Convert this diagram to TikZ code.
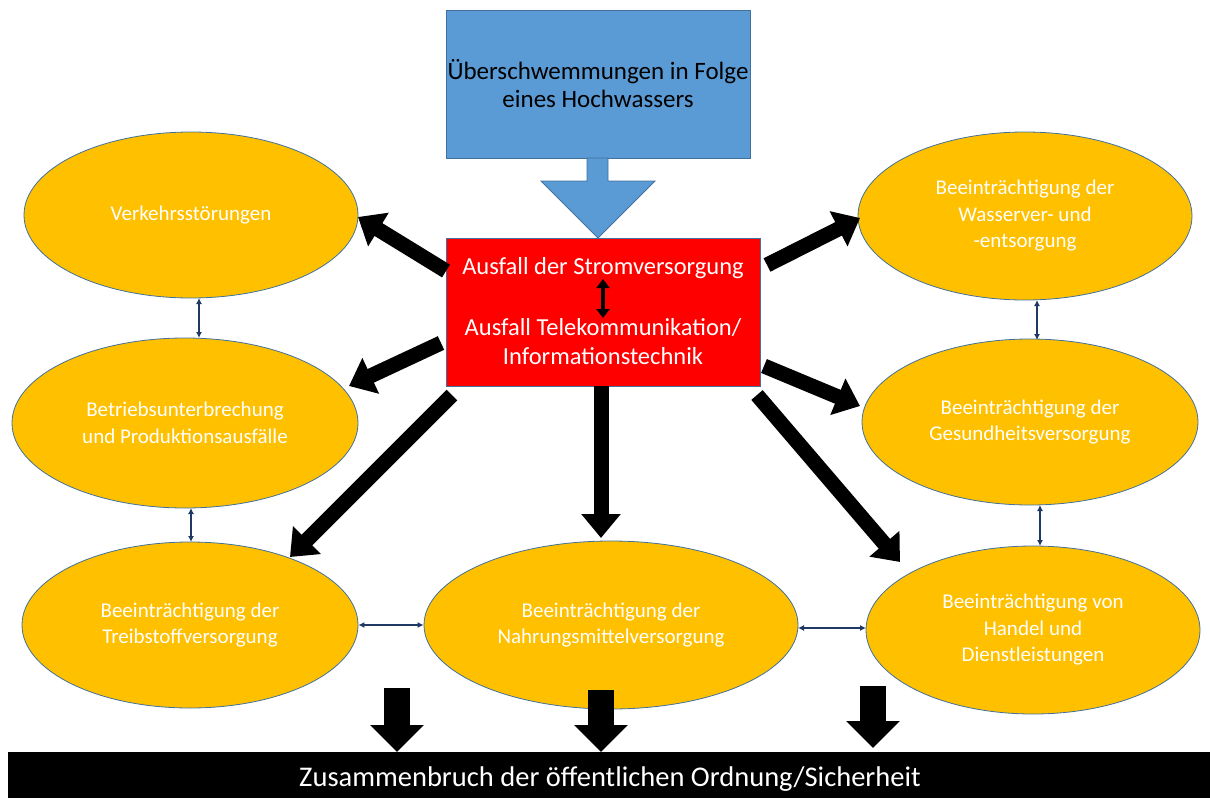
\documentclass[tikz,border=0pt]{standalone}
\usepackage{fontspec}
\setmainfont{Carlito}
\usetikzlibrary{shapes.geometric,arrows.meta}
\definecolor{bluefill}{HTML}{5B9BD5}
\definecolor{blueline}{HTML}{41719C}
\definecolor{orangefill}{HTML}{FFC000}
\definecolor{navy}{HTML}{1F3864}
\begin{document}
\begin{tikzpicture}[x=1pt,y=-1pt,
 ell/.style={ellipse, draw=blueline, line width=0.8pt, fill=orangefill, inner sep=0pt, align=center, text=white, font=\fontsize{21}{26.5}\selectfont},
 bigarrow/.style={black, line width=15pt, -{Triangle[length=24pt,width=38pt]}},
 downarrow/.style={black, line width=26pt, -{Triangle[length=27pt,width=52pt]}},
 smallarrow/.style={navy, line width=1.6pt, {Latex[length=6pt,width=6pt]}-{Latex[length=6pt,width=6pt]}},
 boxtext/.style={text=white, align=center}
]
\useasboundingbox (0,0) rectangle (1210,798);
% blue box
\node[draw=blueline, line width=0.8pt, fill=bluefill, minimum width=304pt, minimum height=148pt, inner sep=0pt, align=center, font=\fontsize{25}{28}\selectfont] (flood) at (598,84) {Überschwemmungen in Folge\\eines Hochwassers};
\filldraw[fill=bluefill, draw=blueline, line width=0.8pt] (587,158) -- (608,158) -- (608,181) -- (655,181) -- (598,238) -- (541,181) -- (587,181) -- cycle;
% red box
\node[draw=blueline, line width=0.8pt, fill=red, minimum width=314pt, minimum height=148pt, inner sep=0pt] (power) at (603,312) {};
\node[boxtext, font=\fontsize{24.5}{29}\selectfont] (strom) at (603,268) {Ausfall der Stromversorgung};
\node[boxtext, font=\fontsize{24.5}{29}\selectfont] (tele) at (603,342) {Ausfall Telekommunikation/\\Informationstechnik};
\coordinate (sa) at (603,279);
\coordinate (sb) at (603,318);
\draw[black, line width=4pt, {Triangle[length=9pt,width=13pt]}-{Triangle[length=9pt,width=13pt]}] (sa) -- (sb);
% ellipses
\node[ell, minimum width=334pt, minimum height=166pt] (verk) at (191,215) {Verkehrsstörungen};
\node[ell, minimum width=346pt, minimum height=170pt] (betr) at (185,423) {Betriebsunterbrechung\\und Produktionsausfälle};
\node[ell, minimum width=336pt, minimum height=166pt] (treib) at (190,625) {Beeinträchtigung der\\Treibstoffversorgung};
\node[ell, minimum width=374pt, minimum height=168pt] (nahr) at (611,625) {Beeinträchtigung der\\Nahrungsmittelversorgung};
\node[ell, minimum width=334pt, minimum height=168pt] (wass) at (1025,216) {Beeinträchtigung der\\Wasserver- und\\-entsorgung};
\node[ell, minimum width=336pt, minimum height=166pt] (gesu) at (1030,422) {Beeinträchtigung der\\Gesundheitsversorgung};
\node[ell, minimum width=334pt, minimum height=168pt] (hand) at (1033,630) {Beeinträchtigung von\\Handel und\\Dienstleistungen};
% small double arrows
\draw[smallarrow] (199,298) -- (199,338);
\draw[smallarrow] (191,508) -- (191,542);
\draw[smallarrow] (treib.east) -- (nahr.west);
\coordinate (na) at (798,628); \coordinate (hb) at (866,628);
\draw[smallarrow] (na) -- (hb);
\draw[smallarrow] (1037,300) -- (1037,340);
\draw[smallarrow] (1040,505) -- (1040,546);
% big arrows
\coordinate (t1) at (446,271); \coordinate (h1) at (358,217);
\coordinate (t2) at (441,343); \coordinate (h2) at (349,386);
\coordinate (t3) at (452,395); \coordinate (h3) at (290,557);
\coordinate (t4) at (601,386); \coordinate (h4) at (601,538);
\coordinate (t5) at (767,265); \coordinate (h5) at (860,218);
\coordinate (t6) at (764,366); \coordinate (h6) at (860,406);
\coordinate (t7) at (757,395); \coordinate (h7) at (900,562);
\foreach \i in {1,...,7} {\draw[bigarrow] (t\i) -- (h\i);}
% bottom bar
\node[fill=black, minimum width=1202pt, minimum height=46pt, inner sep=0pt] (bar) at (609,775) {};
\node[text=white, font=\fontsize{28.5}{32}\selectfont] (bartext) at (610,779) {Zusammenbruch der öffentlichen Ordnung/Sicherheit};
\coordinate (d1) at (397,688); \coordinate (e1) at (397,752);
\coordinate (d2) at (601,690); \coordinate (e2) at (601,752);
\coordinate (d3) at (873,686); \coordinate (e3) at (873,748);
\foreach \i in {1,2,3} {\draw[downarrow] (d\i) -- (e\i);}
\end{tikzpicture}
\end{document}
